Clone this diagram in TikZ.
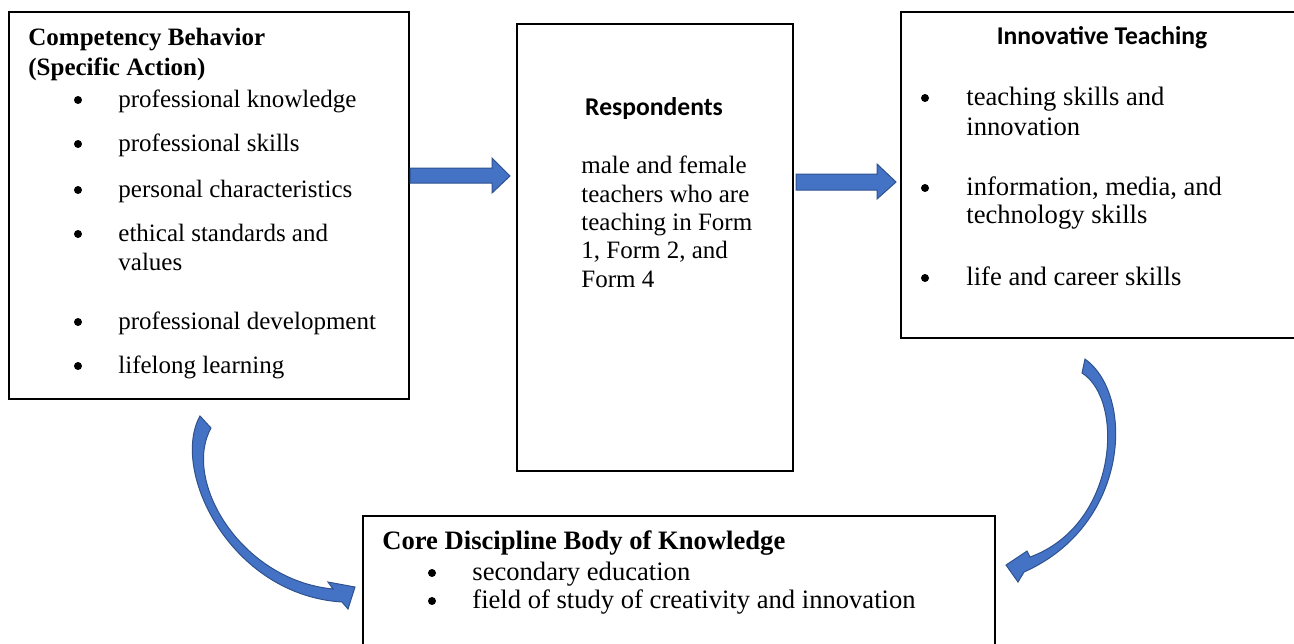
\documentclass[tikz,border=0pt]{standalone}
\usepackage{fontspec}
\setmainfont{Liberation Serif}
\newfontfamily\headsans{Carlito}
\definecolor{arrowblue}{HTML}{4472C4}
\definecolor{arrowedge}{HTML}{2F528F}
\begin{document}
\begin{tikzpicture}[x=0.5pt,y=-0.5pt,
  frame/.style={draw=black, line width=0.9pt, inner sep=0pt, anchor=north west},
  txt/.style={anchor=base west, inner sep=0pt, font=\fontsize{12.5}{15}\selectfont},
  ttl/.style={anchor=base west, inner sep=0pt, font=\fontsize{12.5}{15}\selectfont\bfseries},
  cam/.style={anchor=base west, inner sep=0pt, font=\fontsize{13.3}{16}\selectfont},
  camb/.style={anchor=base west, inner sep=0pt, font=\fontsize{13.3}{16}\selectfont\bfseries},
  hsans/.style={anchor=base, inner sep=0pt, font=\headsans\fontsize{12.8}{15}\selectfont\bfseries},
  dot/.style={circle, fill=black, inner sep=0pt, minimum size=4pt},
  blockarrow/.style={fill=arrowblue, draw=arrowedge, line width=0.5pt, line join=miter}]

\useasboundingbox (0,0) rectangle (1294,643);

% ---------- boxes ----------
\node[frame, minimum width=200pt, minimum height=193.5pt] (comp) at (8,11) {};
\node[frame, minimum width=138pt, minimum height=223.5pt] (resp) at (516,23) {};
\node[frame, minimum width=200pt, minimum height=163pt]   (innov) at (900,11) {};
\node[frame, minimum width=316pt, minimum height=70pt]    (core) at (362,515) {};

% ---------- Competency Behavior ----------
\node[ttl] (compA) at (28,45) {Competency Behavior};
\node[ttl] (compB) at (28,75) {(Specific Action)};
\node[dot] (cd1) at (78,100) {};
\node[txt] (ct1) at (118,107) {professional knowledge};
\node[dot] (cd2) at (78,144) {};
\node[txt] (ct2) at (118,151) {professional skills};
\node[dot] (cd3) at (78,190) {};
\node[txt] (ct3) at (118,197) {personal characteristics};
\node[dot] (cd4) at (78,234) {};
\node[txt] (ct4) at (118,241) {ethical standards and};
\node[txt] (ct4b) at (118,270) {values};
\node[dot] (cd5) at (78,322) {};
\node[txt] (ct5) at (118,329) {professional development};
\node[dot] (cd6) at (78,366) {};
\node[txt] (ct6) at (118,373) {lifelong learning};

% ---------- Respondents ----------
\node[hsans] (respT) at (654,115) {Respondents};
\node[txt] (r1) at (581,173) {male and female};
\node[txt] (r2) at (581,202) {teachers who are};
\node[txt] (r3) at (581,230) {teaching in Form};
\node[txt] (r4) at (581,258) {1, Form 2, and};
\node[txt] (r5) at (581,287) {Form 4};

% ---------- Innovative Teaching ----------
\node[hsans] (innT) at (1102,44) {Innovative Teaching};
\node[dot] (id1) at (925,98) {};
\node[cam] (i1) at (966,105) {teaching skills and};
\node[cam] (i1b) at (966,135) {innovation};
\node[dot] (id2) at (925,188) {};
\node[cam] (i2) at (966,195) {information, media, and};
\node[cam] (i2b) at (966,223) {technology skills};
\node[dot] (id3) at (925,278) {};
\node[cam] (i3) at (966,285) {life and career skills};

% ---------- Core Discipline ----------
\node[camb] (coreT) at (382,549) {Core Discipline Body of Knowledge};
\node[dot] (kd1) at (432,573) {};
\node[cam] (k1) at (472,580) {secondary education};
\node[dot] (kd2) at (432,601) {};
\node[cam] (k2) at (472,608) {field of study of creativity and innovation};

% ---------- straight block arrows ----------
\path[blockarrow] (410,168) -- (492,168) -- (492,158) -- (510,176) -- (492,193)
  -- (492,183) -- (410,183) -- cycle;
\path[blockarrow] (796,174) -- (877,174) -- (877,164) -- (896,182) -- (877,199)
  -- (877,190) -- (796,190) -- cycle;

% ---------- curved block arrows ----------
\path[blockarrow] (200,416) -- (211,428)
  .. controls (182,480) and (240,580) .. (333,589)
  -- (328,582) -- (355,587) -- (348,609) -- (342,602)
  .. controls (230,595) and (170,470) .. (200,416) -- cycle;

\path[blockarrow] (1085,359)
  .. controls (1135,395) and (1130,525) .. (1024,572)
  -- (1018,582) -- (1006,565) -- (1027,551) -- (1030,557)
  .. controls (1118,525) and (1125,400) .. (1082,373) -- cycle;

\end{tikzpicture}
\end{document}
